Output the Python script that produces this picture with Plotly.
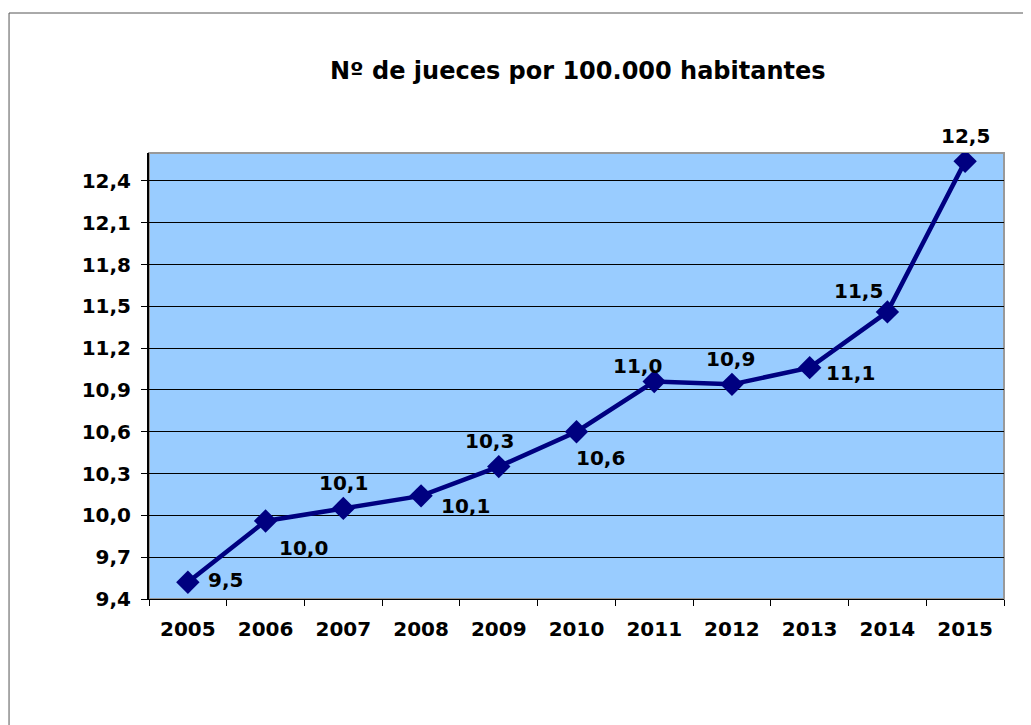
import plotly.graph_objects as go

years = ["2005", "2006", "2007", "2008", "2009", "2010", "2011", "2012", "2013", "2014", "2015"]
jueces = [9.52, 9.96, 10.05, 10.14, 10.35, 10.60, 10.96, 10.94, 11.06, 11.46, 12.54]
title_text = "Nº de jueces por 100.000 habitantes"

# label offsets (pixels) relative to each point
label_dx = [38, 38, 0, 44, -9, 24, -17, -1, 41, -29, 0]
label_dy = [2, -27, 25, -10, 26, -26, 16, 25, -5, 21, 25]

FONT = "Verdana, DejaVu Sans, sans-serif"

fig = go.Figure()
fig.add_trace(go.Scatter(
    x=years, y=jueces, mode="lines+markers",
    line=dict(color="#000080", width=4.5),
    marker=dict(symbol="diamond", size=18, color="#000080"),
    hoverinfo="x+y",
    showlegend=False,
))

for i, (y, dx, dy) in enumerate(zip(jueces, label_dx, label_dy)):
    fig.add_annotation(
        x=i, y=y, xref="x", yref="y",
        text=f"{y:.1f}".replace(".", ","),
        showarrow=False, xshift=dx, yshift=dy,
        font=dict(family=FONT, size=20, color="black", weight="bold"),
    )

# outer chart frame
fig.add_shape(type="rect", xref="paper", yref="paper",
              x0=-0.1637, x1=1.2, y0=-0.5, y1=1.3139,
              line=dict(color="#555555", width=1), layer="below")
# plot area border (top/right gray)
fig.add_shape(type="rect", xref="paper", yref="paper",
              x0=0, x1=1, y0=0, y1=1,
              line=dict(color="#999999", width=2), layer="below")

fig.update_layout(
    width=1023, height=717,
    margin=dict(l=141, r=27, t=145, b=126),
    paper_bgcolor="white",
    plot_bgcolor="#99CCFF",
    separators=",.",
    title=dict(text=title_text, x=0.557, xanchor="center", y=0.912, yanchor="middle",
               xref="container", yref="container",
               font=dict(family=FONT, size=24, color="black", weight="bold")),
    xaxis=dict(
        type="category", range=[-0.5, 10.5],
        showgrid=False, showline=True, linecolor="black", linewidth=1,
        ticks="outside", tickson="boundaries", ticklen=6, tickcolor="black",
        ticklabelstandoff=12,
        tickfont=dict(family=FONT, size=20, color="black", weight="bold"),
        fixedrange=True,
    ),
    yaxis=dict(
        range=[9.4, 12.6], tickvals=[9.4, 9.7, 10.0, 10.3, 10.6, 10.9, 11.2, 11.5, 11.8, 12.1, 12.4],
        tickformat=".1f",
        showgrid=True, gridcolor="black", gridwidth=1,
        showline=True, linecolor="black", linewidth=2,
        ticks="outside", ticklen=6, tickcolor="black",
        ticklabelstandoff=6,
        tickfont=dict(family=FONT, size=20, color="black", weight="bold"),
        zeroline=False, fixedrange=True,
    ),
)

fig.write_html("out.html")
